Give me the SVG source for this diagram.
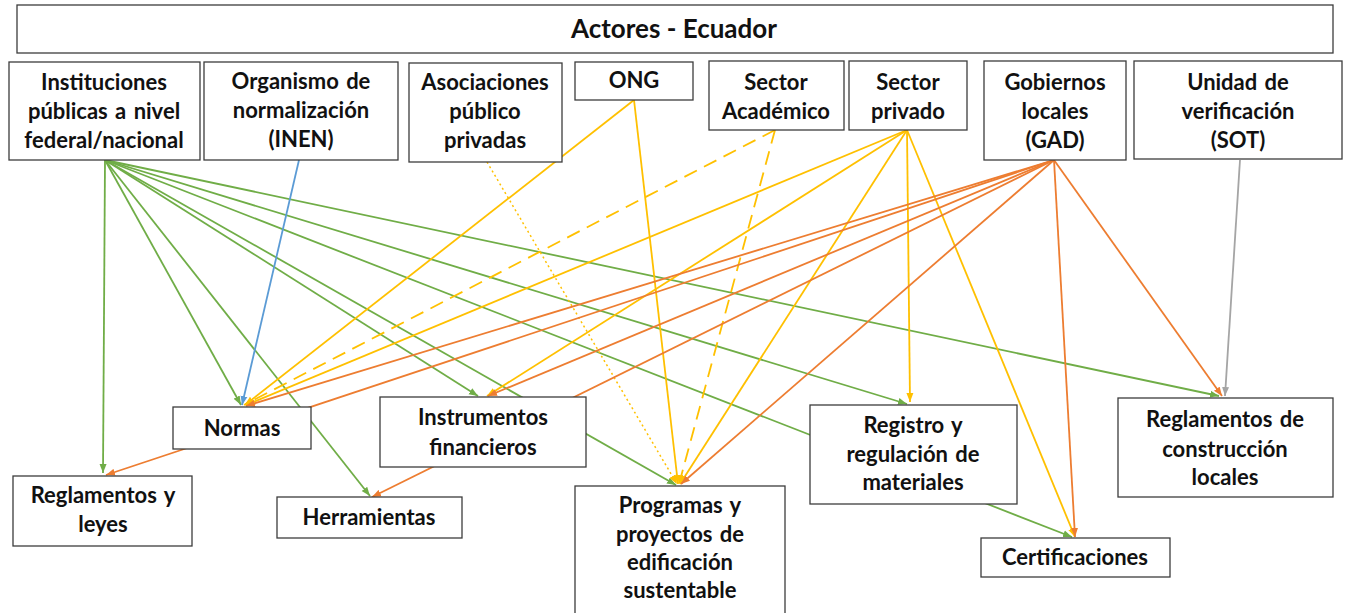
<svg xmlns="http://www.w3.org/2000/svg" width="1348" height="613" viewBox="0 0 1348 613">
<style>
.box{fill:#fff;stroke:#3c3c3c;stroke-width:1.3}
.t{font-family:Lato,"Liberation Sans",sans-serif;font-weight:bold;font-size:22px;fill:#111;text-anchor:middle;word-spacing:2px}
.title{font-size:26px;word-spacing:0}
.c{fill:none;stroke-width:1.8}
.g{stroke:#70AD47}
.o{stroke:#ED7D31}
.y{stroke:#FFC000}
.b{stroke:#5B9BD5}
.gr{stroke:#A5A5A5}
.dash{stroke-dasharray:14 8}
.dot{stroke-dasharray:2 3;stroke-width:1.5}
</style>
<defs>
<marker id="ag" markerUnits="userSpaceOnUse" markerWidth="10" markerHeight="8" refX="9" refY="4" orient="auto"><path d="M0,0.5 L9,4 L0,7.5 z" fill="#70AD47"/></marker>
<marker id="ao" markerUnits="userSpaceOnUse" markerWidth="10" markerHeight="8" refX="9" refY="4" orient="auto"><path d="M0,0.5 L9,4 L0,7.5 z" fill="#ED7D31"/></marker>
<marker id="ay" markerUnits="userSpaceOnUse" markerWidth="10" markerHeight="8" refX="9" refY="4" orient="auto"><path d="M0,0.5 L9,4 L0,7.5 z" fill="#FFC000"/></marker>
<marker id="ab" markerUnits="userSpaceOnUse" markerWidth="10" markerHeight="8" refX="9" refY="4" orient="auto"><path d="M0,0.5 L9,4 L0,7.5 z" fill="#5B9BD5"/></marker>
<marker id="agr" markerUnits="userSpaceOnUse" markerWidth="10" markerHeight="8" refX="9" refY="4" orient="auto"><path d="M0,0.5 L9,4 L0,7.5 z" fill="#A5A5A5"/></marker>
</defs>
<rect width="1348" height="613" fill="#fff"/>
<g id="connectors">
<line class="c g" x1="105" y1="160" x2="103" y2="473" marker-end="url(#ag)"/>
<line class="c g" x1="105" y1="160" x2="241" y2="405" marker-end="url(#ag)"/>
<line class="c g" x1="105" y1="160" x2="370" y2="496" marker-end="url(#ag)"/>
<line class="c g" x1="105" y1="160" x2="478" y2="396" marker-end="url(#ag)"/>
<line class="c g" x1="105" y1="160" x2="676" y2="485" marker-end="url(#ag)"/>
<line class="c g" x1="105" y1="160" x2="907" y2="404" marker-end="url(#ag)"/>
<line class="c g" x1="105" y1="160" x2="1072" y2="537" marker-end="url(#ag)"/>
<line class="c g" x1="105" y1="160" x2="1219" y2="396" marker-end="url(#ag)"/>
<line class="c b" x1="299" y1="160" x2="242" y2="405" marker-end="url(#ab)"/>
<line class="c y" x1="634" y1="100" x2="245" y2="405" marker-end="url(#ay)"/>
<line class="c y" x1="634" y1="100" x2="678" y2="484" marker-end="url(#ay)"/>
<line class="c y" x1="907" y1="130" x2="246" y2="405" marker-end="url(#ay)"/>
<line class="c y" x1="907" y1="130" x2="487" y2="396" marker-end="url(#ay)"/>
<line class="c y" x1="907" y1="130" x2="680" y2="484" marker-end="url(#ay)"/>
<line class="c y" x1="907" y1="130" x2="910" y2="402" marker-end="url(#ay)"/>
<line class="c y" x1="907" y1="130" x2="1075" y2="537" marker-end="url(#ay)"/>
<line class="c y dash" x1="775" y1="130" x2="244" y2="405" marker-end="url(#ay)"/>
<line class="c y dash" x1="775" y1="130" x2="679" y2="484" marker-end="url(#ay)"/>
<line class="c y dot" x1="487" y1="162" x2="677" y2="484" marker-end="url(#ay)"/>
<line class="c o" x1="1054" y1="160" x2="246" y2="406" marker-end="url(#ao)"/>
<line class="c o" x1="1054" y1="160" x2="106" y2="475" marker-end="url(#ao)"/>
<line class="c o" x1="1054" y1="160" x2="488" y2="396" marker-end="url(#ao)"/>
<line class="c o" x1="1054" y1="160" x2="372" y2="497" marker-end="url(#ao)"/>
<line class="c o" x1="1054" y1="160" x2="681" y2="484" marker-end="url(#ao)"/>
<line class="c o" x1="1054" y1="160" x2="1075" y2="537" marker-end="url(#ao)"/>
<line class="c o" x1="1054" y1="160" x2="1222" y2="396" marker-end="url(#ao)"/>
<line class="c gr" x1="1240" y1="160" x2="1225" y2="396" marker-end="url(#agr)"/>
</g>
<g id="title"><rect class="box" x="17" y="5" width="1316" height="48"/><text class="t title" x="674" y="38">Actores - Ecuador</text></g>
<g id="n-instituciones"><rect class="box" x="9" y="62" width="191" height="98"/><text class="t" x="104" y="90">Instituciones</text><text class="t" x="104" y="119">públicas a nivel</text><text class="t" x="104" y="148">federal/nacional</text></g>
<g id="n-organismo"><rect class="box" x="204" y="62" width="194" height="98"/><text class="t" x="301" y="89">Organismo de</text><text class="t" x="301" y="118">normalización</text><text class="t" x="301" y="147">(INEN)</text></g>
<g id="n-asociaciones"><rect class="box" x="409" y="63" width="153" height="99"/><text class="t" x="485" y="90">Asociaciones</text><text class="t" x="485" y="119">público</text><text class="t" x="485" y="148">privadas</text></g>
<g id="n-ong"><rect class="box" x="575" y="62" width="118" height="38"/><text class="t" x="634" y="88">ONG</text></g>
<g id="n-academico"><rect class="box" x="709" y="61" width="135" height="69"/><text class="t" x="776" y="90">Sector</text><text class="t" x="776" y="119">Académico</text></g>
<g id="n-privado"><rect class="box" x="849" y="61" width="118" height="69"/><text class="t" x="908" y="90">Sector</text><text class="t" x="908" y="119">privado</text></g>
<g id="n-gad"><rect class="box" x="984" y="61" width="142" height="99"/><text class="t" x="1055" y="90">Gobiernos</text><text class="t" x="1055" y="119">locales</text><text class="t" x="1055" y="148">(GAD)</text></g>
<g id="n-sot"><rect class="box" x="1134" y="61" width="208" height="98"/><text class="t" x="1238" y="90">Unidad de</text><text class="t" x="1238" y="119">verificación</text><text class="t" x="1238" y="148">(SOT)</text></g>
<g id="n-normas"><rect class="box" x="173" y="407" width="138" height="42"/><text class="t" x="242" y="436">Normas</text></g>
<g id="n-reglamentos-leyes"><rect class="box" x="13" y="476" width="179" height="70"/><text class="t" x="103" y="503">Reglamentos y</text><text class="t" x="103" y="532">leyes</text></g>
<g id="n-herramientas"><rect class="box" x="277" y="497" width="185" height="41"/><text class="t" x="369" y="525">Herramientas</text></g>
<g id="n-instrumentos"><rect class="box" x="380" y="397" width="206" height="70"/><text class="t" x="483" y="425">Instrumentos</text><text class="t" x="483" y="455">financieros</text></g>
<g id="n-programas"><rect class="box" x="575" y="486" width="210" height="130"/><text class="t" x="680" y="513">Programas y</text><text class="t" x="680" y="542">proyectos de</text><text class="t" x="680" y="570">edificación</text><text class="t" x="680" y="598">sustentable</text></g>
<g id="n-registro"><rect class="box" x="810" y="405" width="207" height="99"/><text class="t" x="913" y="433">Registro y</text><text class="t" x="913" y="462">regulación de</text><text class="t" x="913" y="490">materiales</text></g>
<g id="n-reglamentos-construccion"><rect class="box" x="1118" y="398" width="215" height="99"/><text class="t" x="1225" y="427">Reglamentos de</text><text class="t" x="1225" y="457">construcción</text><text class="t" x="1225" y="485">locales</text></g>
<g id="n-certificaciones"><rect class="box" x="981" y="538" width="189" height="39"/><text class="t" x="1075" y="565">Certificaciones</text></g>
</svg>
